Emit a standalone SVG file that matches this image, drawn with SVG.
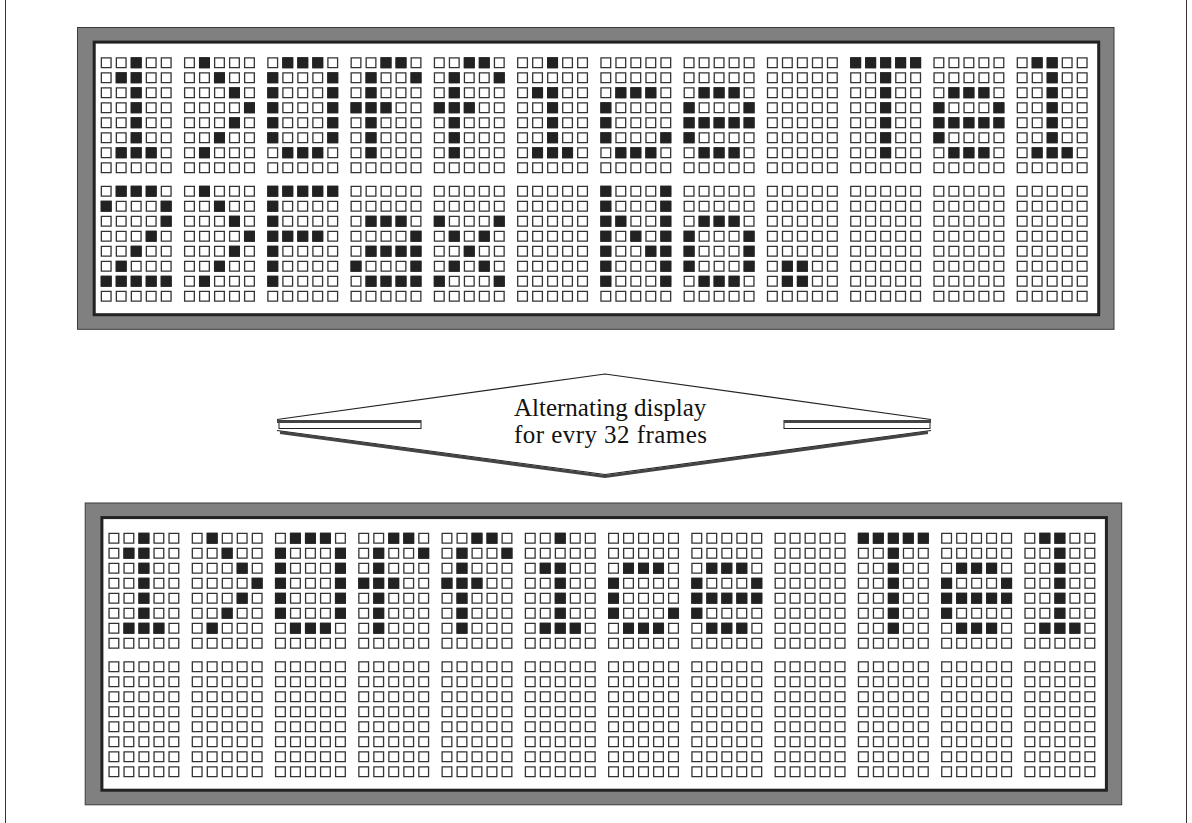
<svg xmlns="http://www.w3.org/2000/svg" xmlns:xlink="http://www.w3.org/1999/xlink" width="1192" height="823" viewBox="0 0 1192 823">
<style>
.frame{fill:#808080;stroke:#3a3a3a;stroke-width:1}
.screen{fill:#fff;stroke:#222;stroke-width:3}
.off{fill:#fff;stroke:#333;stroke-width:1.3}
.on{fill:none;stroke:#222;stroke-width:11}
.lbl{font-family:"Liberation Serif","Times New Roman",serif;font-size:25px;fill:#111}
</style>
<defs>
<path id="row" class="off" d="M.65 .65h9.7v9.7h-9.7z M15.65 .65h9.7v9.7h-9.7z M30.65 .65h9.7v9.7h-9.7z M45.65 .65h9.7v9.7h-9.7z M60.65 .65h9.7v9.7h-9.7z"/>
<g id="cell">
<use href="#row" y="0"/><use href="#row" y="15"/><use href="#row" y="30"/><use href="#row" y="45"/>
<use href="#row" y="60"/><use href="#row" y="75"/><use href="#row" y="90"/><use href="#row" y="105"/>
</g>
<g id="grid">
<use href="#cell" x="0"/><use href="#cell" x="83.27"/><use href="#cell" x="166.54"/><use href="#cell" x="249.81"/>
<use href="#cell" x="333.08"/><use href="#cell" x="416.35"/><use href="#cell" x="499.62"/><use href="#cell" x="582.89"/>
<use href="#cell" x="666.16"/><use href="#cell" x="749.43"/><use href="#cell" x="832.7"/><use href="#cell" x="915.97"/>
</g>
<path id="g1" class="on" d="M30 5.5h11M15 20.5h11M30 20.5h11M30 35.5h11M30 50.5h11M30 65.5h11M30 80.5h11M15 95.5h11M30 95.5h11M45 95.5h11"/>
<path id="ggt" class="on" d="M15 5.5h11M30 20.5h11M45 35.5h11M60 50.5h11M45 65.5h11M30 80.5h11M15 95.5h11"/>
<path id="g0" class="on" d="M15 5.5h11M30 5.5h11M45 5.5h11M0 20.5h11M60 20.5h11M0 35.5h11M60 35.5h11M0 50.5h11M60 50.5h11M0 65.5h11M60 65.5h11M0 80.5h11M60 80.5h11M15 95.5h11M30 95.5h11M45 95.5h11"/>
<path id="gf" class="on" d="M30 5.5h11M45 5.5h11M15 20.5h11M60 20.5h11M15 35.5h11M0 50.5h11M15 50.5h11M30 50.5h11M15 65.5h11M15 80.5h11M15 95.5h11"/>
<path id="gi" class="on" d="M30 5.5h11M15 35.5h11M30 35.5h11M30 50.5h11M30 65.5h11M30 80.5h11M15 95.5h11M30 95.5h11M45 95.5h11"/>
<path id="gc" class="on" d="M15 35.5h11M30 35.5h11M45 35.5h11M0 50.5h11M0 65.5h11M0 80.5h11M60 80.5h11M15 95.5h11M30 95.5h11M45 95.5h11"/>
<path id="ge" class="on" d="M15 35.5h11M30 35.5h11M45 35.5h11M0 50.5h11M60 50.5h11M0 65.5h11M15 65.5h11M30 65.5h11M45 65.5h11M60 65.5h11M0 80.5h11M15 95.5h11M30 95.5h11M45 95.5h11"/>
<path id="gT" class="on" d="M0 5.5h11M15 5.5h11M30 5.5h11M45 5.5h11M60 5.5h11M30 20.5h11M30 35.5h11M30 50.5h11M30 65.5h11M30 80.5h11M30 95.5h11"/>
<path id="gl" class="on" d="M15 5.5h11M30 5.5h11M30 20.5h11M30 35.5h11M30 50.5h11M30 65.5h11M30 80.5h11M15 95.5h11M30 95.5h11M45 95.5h11"/>
<path id="g2" class="on" d="M15 5.5h11M30 5.5h11M45 5.5h11M0 20.5h11M60 20.5h11M60 35.5h11M45 50.5h11M30 65.5h11M15 80.5h11M0 95.5h11M15 95.5h11M30 95.5h11M45 95.5h11M60 95.5h11"/>
<path id="gF" class="on" d="M0 5.5h11M15 5.5h11M30 5.5h11M45 5.5h11M60 5.5h11M0 20.5h11M0 35.5h11M0 50.5h11M15 50.5h11M30 50.5h11M45 50.5h11M0 65.5h11M0 80.5h11M0 95.5h11"/>
<path id="ga" class="on" d="M15 35.5h11M30 35.5h11M45 35.5h11M60 50.5h11M15 65.5h11M30 65.5h11M45 65.5h11M60 65.5h11M0 80.5h11M60 80.5h11M15 95.5h11M30 95.5h11M45 95.5h11M60 95.5h11"/>
<path id="gx" class="on" d="M0 35.5h11M60 35.5h11M15 50.5h11M45 50.5h11M30 65.5h11M15 80.5h11M45 80.5h11M0 95.5h11M60 95.5h11"/>
<path id="gN" class="on" d="M0 5.5h11M60 5.5h11M0 20.5h11M60 20.5h11M0 35.5h11M15 35.5h11M60 35.5h11M0 50.5h11M30 50.5h11M60 50.5h11M0 65.5h11M45 65.5h11M60 65.5h11M0 80.5h11M60 80.5h11M0 95.5h11M60 95.5h11"/>
<path id="go" class="on" d="M15 35.5h11M30 35.5h11M45 35.5h11M0 50.5h11M60 50.5h11M0 65.5h11M60 65.5h11M0 80.5h11M60 80.5h11M15 95.5h11M30 95.5h11M45 95.5h11"/>
<path id="gdot" class="on" d="M15 80.5h11M30 80.5h11M15 95.5h11M30 95.5h11"/>
<g id="line1">
<use href="#g1" x="0"/><use href="#ggt" x="83.27"/><use href="#g0" x="166.54"/><use href="#gf" x="249.81"/>
<use href="#gf" x="333.08"/><use href="#gi" x="416.35"/><use href="#gc" x="499.62"/><use href="#ge" x="582.89"/>
<use href="#gT" x="749.43"/><use href="#ge" x="832.7"/><use href="#gl" x="915.97"/>
</g>
</defs>

<line x1="5.5" y1="0" x2="5.5" y2="823" stroke="#333" stroke-width="1"/>
<line x1="1186.5" y1="0" x2="1186.5" y2="823" stroke="#333" stroke-width="1"/>

<g id="display-top">
<rect class="frame" x="77.5" y="27.5" width="1036.5" height="301.8"/>
<rect class="screen" x="94.2" y="42.1" width="1004.5" height="272.6"/>
<g transform="translate(100.7,57.3)">
<use href="#grid" y="0"/>
<use href="#grid" y="128.4"/>
<use href="#line1" y="0"/>
<g transform="translate(0,128.4)">
<use href="#g2" x="0"/><use href="#ggt" x="83.27"/><use href="#gF" x="166.54"/><use href="#ga" x="249.81"/>
<use href="#gx" x="333.08"/><use href="#gN" x="499.62"/><use href="#go" x="582.89"/><use href="#gdot" x="666.16"/>
</g>
</g>
</g>

<g id="connectors">
<g id="alternating-arrow">
<path d="M277 419.5L605 374L931 419.5" fill="none" stroke="#222" stroke-width="1.2"/>
<rect x="279" y="420.5" width="142" height="8" fill="#fff" stroke="#222" stroke-width="1"/>
<line x1="277" y1="421.5" x2="421" y2="421.5" stroke="#444" stroke-width="3"/>
<rect x="784" y="420.5" width="146" height="8" fill="#fff" stroke="#222" stroke-width="1"/>
<line x1="784" y1="421.5" x2="931" y2="421.5" stroke="#444" stroke-width="3"/>
<path d="M277 430.5L605 474.5L931 430.5" fill="none" stroke="#222" stroke-width="1.2"/>
<path d="M280 432.5L605 476.5L928 432.5" fill="none" stroke="#444" stroke-width="3"/>
</g>
</g>

<g id="label">
<text class="lbl" x="514" y="416">Alternating display</text>
<text class="lbl" x="514" y="443" textLength="193" lengthAdjust="spacing">for evry 32 frames</text>
</g>

<g id="display-bottom" transform="translate(7.7,475.5)">
<rect class="frame" x="77.5" y="27.5" width="1036.5" height="301.8"/>
<rect class="screen" x="94.2" y="42.1" width="1004.5" height="272.6"/>
<g transform="translate(100.7,57.3)">
<use href="#grid" y="0"/>
<use href="#grid" y="128.4"/>
<use href="#line1" y="0"/>
</g>
</g>
</svg>
